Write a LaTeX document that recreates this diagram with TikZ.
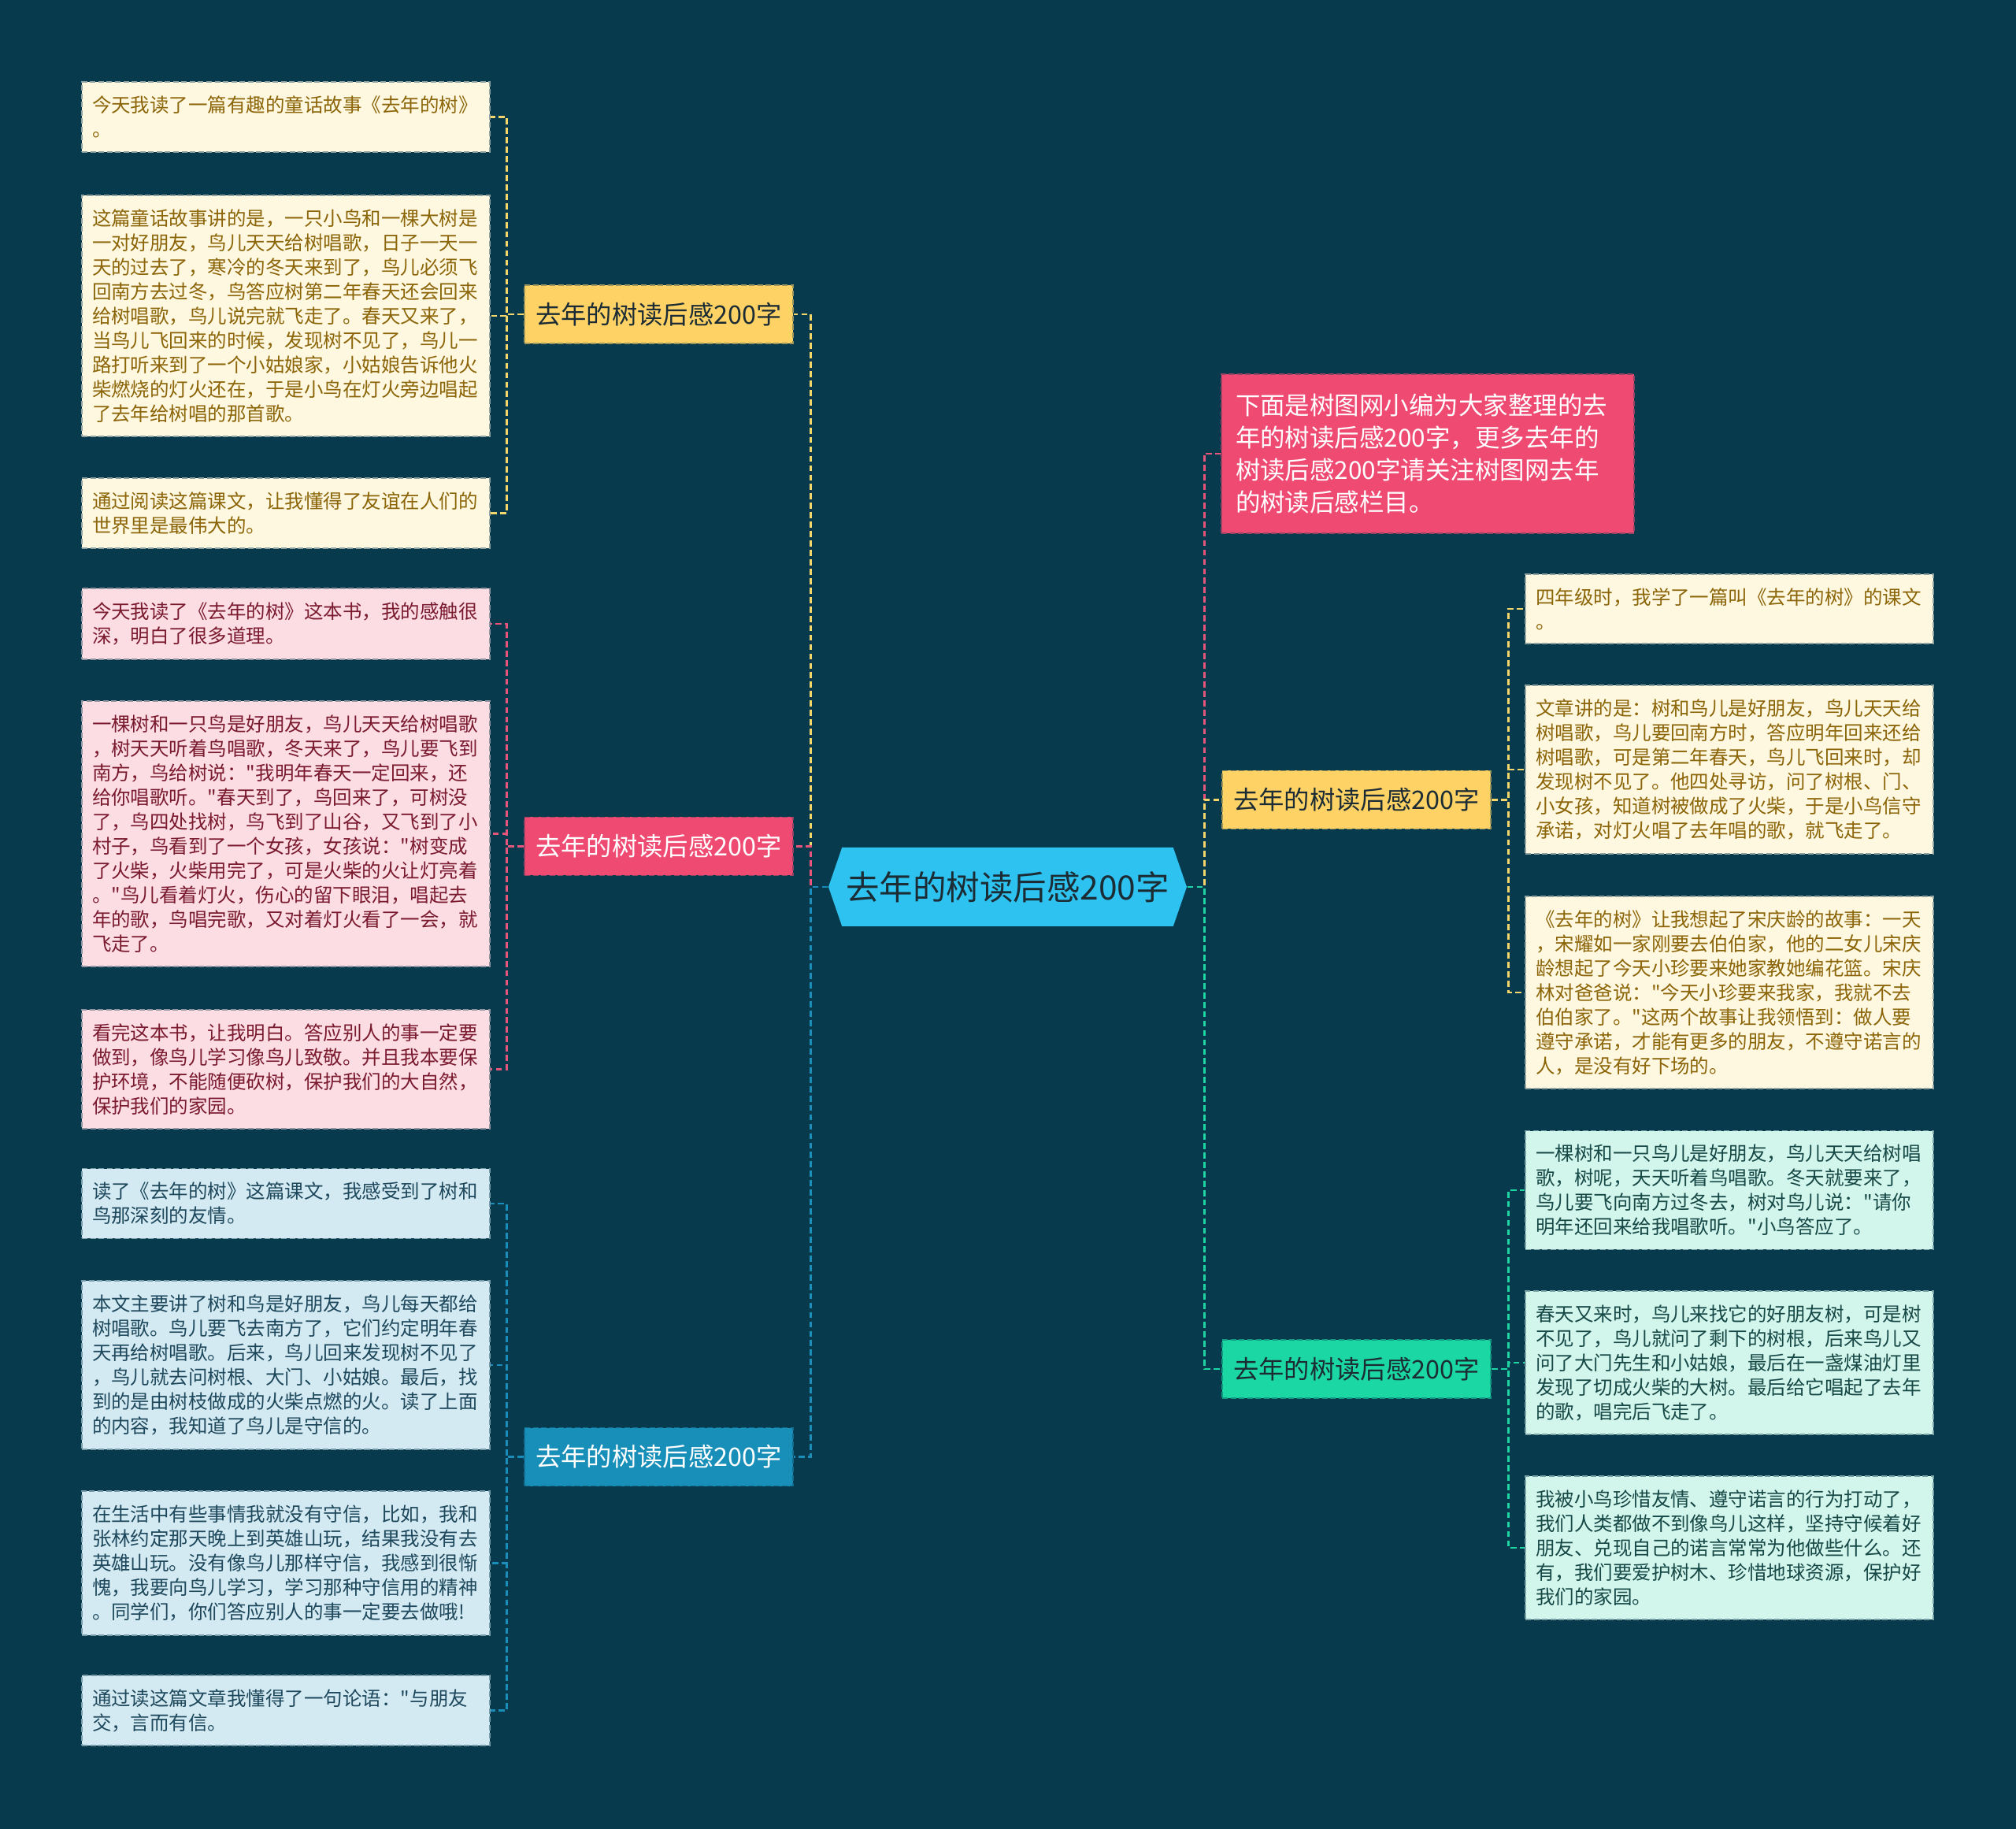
\documentclass[tikz,border=0pt]{standalone}
\usepackage{fontspec}
\setmainfont{Noto Sans CJK SC}[Ligatures=TeXOff]
\usetikzlibrary{shapes.symbols}
\definecolor{bgcol}{RGB}{8,58,78}
\definecolor{rootfill}{RGB}{46,194,240}
\definecolor{darktext}{RGB}{28,44,52}
\definecolor{yelfill}{RGB}{255,210,102}
\definecolor{pinkfill}{RGB}{239,74,114}
\definecolor{bluefill}{RGB}{24,143,184}
\definecolor{grnfill}{RGB}{27,215,163}
\definecolor{yelleaf}{RGB}{255,248,225}
\definecolor{pinkleaf}{RGB}{253,221,228}
\definecolor{blueleaf}{RGB}{212,234,243}
\definecolor{grnleaf}{RGB}{210,245,236}
\definecolor{yeltext}{RGB}{139,101,8}
\definecolor{pinktext}{RGB}{122,26,46}
\definecolor{bluetext}{RGB}{30,72,92}
\definecolor{grntext}{RGB}{22,72,70}
\definecolor{yelline}{RGB}{245,214,107}
\definecolor{pinkline}{RGB}{232,85,122}
\definecolor{blueline}{RGB}{27,141,187}
\definecolor{grnline}{RGB}{29,214,163}

\begin{document}
\begin{tikzpicture}[
  rootbox/.style={                          % central topic: cyan hexagon
    signal, signal to=west and east, signal pointer angle=142,
    fill=rootfill, text=darktext, minimum width=4.55cm, minimum height=1.0cm,
    inner sep=0pt, font=\fontsize{12.1pt}{14pt}\selectfont
  },
  topic/.style={                            % main branches
    rectangle, minimum width=3.41cm, minimum height=0.74cm, inner sep=0pt,
    line width=0.5pt, dash pattern=on 2pt off 1pt,
    font=\fontsize{9.2pt}{11pt}\selectfont
  },
  leaf/.style={                             % text boxes
    rectangle, text width=4.92cm, inner xsep=3.7pt, inner ysep=5pt,
    align=left, line width=0.5pt, dash pattern=on 2pt off 1pt,
    font=\fontsize{6.97pt}{8.82pt}\selectfont
  },
  ytopic/.style={topic, fill=yelfill, draw=yelfill!60!bgcol, text=darktext},
  ptopic/.style={topic, fill=pinkfill, draw=pinkfill!60!bgcol, text=white},
  btopic/.style={topic, fill=bluefill, draw=bluefill!60!bgcol, text=white},
  gtopic/.style={topic, fill=grnfill, draw=grnfill!60!bgcol, text=darktext},
  yleaf/.style={leaf, fill=yelleaf, draw=yelleaf!55!bgcol, text=yeltext},
  pleaf/.style={leaf, fill=pinkleaf, draw=pinkleaf!55!bgcol, text=pinktext},
  bleaf/.style={leaf, fill=blueleaf, draw=blueleaf!55!bgcol, text=bluetext},
  gleaf/.style={leaf, fill=grnleaf, draw=grnleaf!55!bgcol, text=grntext},
  sumbox/.style={
    rectangle, fill=pinkfill, draw=pinkfill!60!bgcol, text=white,
    line width=0.5pt, dash pattern=on 2pt off 1pt,
    text width=4.88cm, inner xsep=5.1pt, inner ysep=7.1pt, align=left,
    font=\fontsize{8.96pt}{11.66pt}\selectfont
  },
  link/.style={draw=#1, line width=0.8pt, dash pattern=on 2.2pt off 1.2pt},
]

% ---- Background (fixes the picture size) ----
\fill[bgcol] (0,0) rectangle (25.6,-23.22);

% ---- Centre ----
\node (root) at (12.795,-11.26) [rootbox] {去年的树读后感200字};

% ---- Left branches ----
\node (bY) at (8.365,-3.99)   [ytopic] {去年的树读后感200字};
\node (bP) at (8.365,-10.745) [ptopic] {去年的树读后感200字};
\node (bB) at (8.365,-18.495) [btopic] {去年的树读后感200字};

% ---- Right branches ----
\node (rS) at (18.13,-5.76)   [sumbox] {下面是树图网小编为大家整理的去\\年的树读后感200字，更多去年的\\树读后感200字请关注树图网去年\\的树读后感栏目。};
\node (rY) at (17.225,-10.155) [ytopic] {去年的树读后感200字};
\node (rG) at (17.225,-17.38)  [gtopic] {去年的树读后感200字};

% ---- Left leaves ----
\node (lY1) at (3.63,-1.485) [yleaf] {今天我读了一篇有趣的童话故事《去年的树》\\。};
\node (lY2) at (3.63,-4.01)  [yleaf] {这篇童话故事讲的是，一只小鸟和一棵大树是\\一对好朋友，鸟儿天天给树唱歌，日子一天一\\天的过去了，寒冷的冬天来到了，鸟儿必须飞\\回南方去过冬，鸟答应树第二年春天还会回来\\给树唱歌，鸟儿说完就飞走了。春天又来了，\\当鸟儿飞回来的时候，发现树不见了，鸟儿一\\路打听来到了一个小姑娘家，小姑娘告诉他火\\柴燃烧的灯火还在，于是小鸟在灯火旁边唱起\\了去年给树唱的那首歌。};
\node (lY3) at (3.63,-6.515) [yleaf] {通过阅读这篇课文，让我懂得了友谊在人们的\\世界里是最伟大的。};

\node (lP1) at (3.63,-7.92)   [pleaf] {今天我读了《去年的树》这本书，我的感触很\\深，明白了很多道理。};
\node (lP2) at (3.63,-10.585) [pleaf] {一棵树和一只鸟是好朋友，鸟儿天天给树唱歌\\，树天天听着鸟唱歌，冬天来了，鸟儿要飞到\\南方，鸟给树说："我明年春天一定回来，还\\给你唱歌听。"春天到了，鸟回来了，可树没\\了，鸟四处找树，鸟飞到了山谷，又飞到了小\\村子，鸟看到了一个女孩，女孩说："树变成\\了火柴，火柴用完了，可是火柴的火让灯亮着\\。"鸟儿看着灯火，伤心的留下眼泪，唱起去\\年的歌，鸟唱完歌，又对着灯火看了一会，就\\飞走了。};
\node (lP3) at (3.63,-13.575) [pleaf] {看完这本书，让我明白。答应别人的事一定要\\做到，像鸟儿学习像鸟儿致敬。并且我本要保\\护环境，不能随便砍树，保护我们的大自然，\\保护我们的家园。};

\node (lB1) at (3.63,-15.28)  [bleaf] {读了《去年的树》这篇课文，我感受到了树和\\鸟那深刻的友情。};
\node (lB2) at (3.63,-17.33)  [bleaf] {本文主要讲了树和鸟是好朋友，鸟儿每天都给\\树唱歌。鸟儿要飞去南方了，它们约定明年春\\天再给树唱歌。后来，鸟儿回来发现树不见了\\，鸟儿就去问树根、大门、小姑娘。最后，找\\到的是由树枝做成的火柴点燃的火。读了上面\\的内容，我知道了鸟儿是守信的。};
\node (lB3) at (3.63,-19.845) [bleaf] {在生活中有些事情我就没有守信，比如，我和\\张林约定那天晚上到英雄山玩，结果我没有去\\英雄山玩。没有像鸟儿那样守信，我感到很惭\\愧，我要向鸟儿学习，学习那种守信用的精神\\。同学们，你们答应别人的事一定要去做哦!};
\node (lB4) at (3.63,-21.715) [bleaf] {通过读这篇文章我懂得了一句论语："与朋友\\交，言而有信。};

% ---- Right leaves ----
\node (rY1) at (21.96,-7.73)  [yleaf] {四年级时，我学了一篇叫《去年的树》的课文\\。};
\node (rY2) at (21.96,-9.77)  [yleaf] {文章讲的是：树和鸟儿是好朋友，鸟儿天天给\\树唱歌，鸟儿要回南方时，答应明年回来还给\\树唱歌，可是第二年春天，鸟儿飞回来时，却\\发现树不见了。他四处寻访，问了树根、门、\\小女孩，知道树被做成了火柴，于是小鸟信守\\承诺，对灯火唱了去年唱的歌，就飞走了。};
\node (rY3) at (21.96,-12.6)  [yleaf] {《去年的树》让我想起了宋庆龄的故事：一天\\，宋耀如一家刚要去伯伯家，他的二女儿宋庆\\龄想起了今天小珍要来她家教她编花篮。宋庆\\林对爸爸说："今天小珍要来我家，我就不去\\伯伯家了。"这两个故事让我领悟到：做人要\\遵守承诺，才能有更多的朋友，不遵守诺言的\\人，是没有好下场的。};

\node (rG1) at (21.96,-15.11) [gleaf] {一棵树和一只鸟儿是好朋友，鸟儿天天给树唱\\歌，树呢，天天听着鸟唱歌。冬天就要来了，\\鸟儿要飞向南方过冬去，树对鸟儿说："请你\\明年还回来给我唱歌听。"小鸟答应了。};
\node (rG2) at (21.96,-17.30) [gleaf] {春天又来时，鸟儿来找它的好朋友树，可是树\\不见了，鸟儿就问了剩下的树根，后来鸟儿又\\问了大门先生和小姑娘，最后在一盏煤油灯里\\发现了切成火柴的大树。最后给它唱起了去年\\的歌，唱完后飞走了。};
\node (rG3) at (21.96,-19.65) [gleaf] {我被小鸟珍惜友情、遵守诺言的行为打动了，\\我们人类都做不到像鸟儿这样，坚持守候着好\\朋友、兑现自己的诺言常常为他做些什么。还\\有，我们要爱护树木、珍惜地球资源，保护好\\我们的家园。};

% ---- Connectors, left side ----
\foreach \p/\c/\col in {root/bY/yelline, root/bP/pinkline, root/bB/blueline,
                        bY/lY1/yelline, bY/lY2/yelline, bY/lY3/yelline,
                        bP/lP1/pinkline, bP/lP2/pinkline, bP/lP3/pinkline,
                        bB/lB1/blueline, bB/lB2/blueline, bB/lB3/blueline, bB/lB4/blueline}
  \draw[link=\col] (\p.west) -- ++(-0.22,0) |- (\c.east);

% ---- Connectors, right side ----
\foreach \p/\c/\col in {root/rS/pinkline, root/rY/yelline, root/rG/grnline,
                        rY/rY1/yelline, rY/rY2/yelline, rY/rY3/yelline,
                        rG/rG1/grnline, rG/rG2/grnline, rG/rG3/grnline}
  \draw[link=\col] (\p.east) -- ++(0.215,0) |- (\c.west);

\end{tikzpicture}
\end{document}
